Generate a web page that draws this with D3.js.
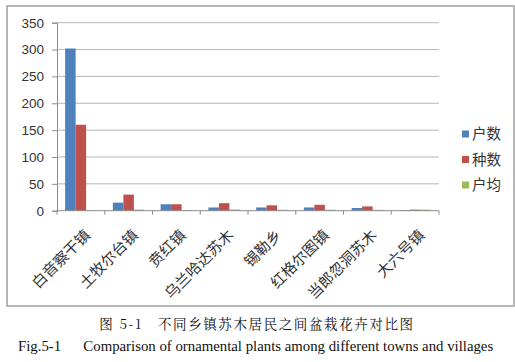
<!DOCTYPE html>
<html><head><meta charset="utf-8">
<script src="https://cdn.jsdelivr.net/npm/d3@7"></script>
<style>body{margin:0;background:#fff;}svg{display:block;}</style>
</head><body>
<script>
const categories = ["白音察干镇","土牧尔台镇","贲红镇","乌兰哈达苏木","锡勒乡","红格尔图镇","当郎忽洞苏木","大六号镇"];
const seriesNames = ["户数","种数","户均"];
const huShu = [302, 15, 12, 6, 6, 6, 5, 1];
const zhongShu = [160, 30, 12, 14, 10, 11, 8, 2];
const huJun = [0.5, 2, 1, 2.3, 1.7, 1.8, 1.6, 2];
const yTicks = [0,50,100,150,200,250,300,350];
const colors = ["#4f81bd","#c0504d","#9bbb59"];

(function(){
const W = 515, H = 362;
const svg = d3.select("body").append("svg").attr("width", W).attr("height", H);

// frame
svg.append("rect").attr("x",7).attr("y",6).attr("width",507).attr("height",300)
  .attr("fill","#fff").attr("stroke","#a0a0a0").attr("stroke-width",1.5);

const pl = 57, pr = 439, pt = 22.7, pb = 210.7;
const x = d3.scaleBand().domain(categories).range([pl,pr]).paddingInner(0.34).paddingOuter(0.17);
const xs = d3.scaleBand().domain(seriesNames).range([0,x.bandwidth()]);
const y = d3.scaleLinear().domain([0,350]).range([pb,pt]);

// grid
svg.append("g").selectAll("line").data(yTicks.filter(d=>d>0)).join("line")
  .attr("x1",pl).attr("x2",pr).attr("y1",d=>y(d)).attr("y2",d=>y(d))
  .attr("stroke","#b8b8b8").attr("stroke-width",1);

// y axis
const yAxis = d3.axisLeft(y).tickValues(yTicks).tickSize(5).tickPadding(8);
const gy = svg.append("g").attr("transform",`translate(${pl},0)`).call(yAxis);
gy.select(".domain").attr("stroke","#8c8c8c");
gy.selectAll(".tick line").attr("stroke","#8c8c8c");
gy.selectAll(".tick text").attr("font-family","Liberation Sans, Arial, sans-serif").attr("font-size",13.5).attr("fill","#333");

// bars
const data = [huShu, zhongShu, huJun];
data.forEach((vals,si)=>{
  svg.append("g").selectAll("rect").data(vals).join("rect")
    .attr("x",(d,i)=>x(categories[i])+xs(seriesNames[si]))
    .attr("width",xs.bandwidth())
    .attr("y",d=>y(d)).attr("height",d=>pb-y(d))
    .attr("fill",colors[si]);
});

// x axis
const gx = svg.append("g").attr("transform",`translate(0,${pb})`);
gx.append("line").attr("x1",pl).attr("x2",pr).attr("stroke","#8c8c8c");
const tickXs = d3.range(categories.length+1).map(i=>pl+i*(pr-pl)/categories.length);
gx.selectAll("line.t").data(tickXs).join("line").attr("class","t")
  .attr("x1",d=>d).attr("x2",d=>d).attr("y1",0).attr("y2",4).attr("stroke","#8c8c8c");
gx.selectAll("text").data(categories).join("text")
  .attr("transform",d=>`translate(${x(d)+x.bandwidth()/2+3},${18}) rotate(-45)`)
  .attr("text-anchor","end").attr("dy","0.7em")
  .attr("font-family","Noto Sans CJK SC, sans-serif").attr("font-size",15).attr("fill","#333")
  .text(d=>d);

// legend
const lg = svg.append("g");
seriesNames.forEach((n,i)=>{
  const ly = 134 + i*25.5;
  lg.append("rect").attr("x",462).attr("y",ly-3.5).attr("width",7).attr("height",7).attr("fill",colors[i]);
  lg.append("text").attr("x",472).attr("y",ly).attr("dy","0.35em")
    .attr("font-family","Noto Sans CJK SC, sans-serif").attr("font-size",14.5).attr("fill","#333").text(n);
});

// captions
svg.append("text").attr("x",257).attr("y",329).attr("text-anchor","middle")
  .attr("font-family","Noto Serif CJK SC, Noto Sans CJK SC, serif").attr("font-size",13.5).attr("fill","#111")
  .attr("letter-spacing",1.6)
  .text("图 5-1　不同乡镇苏木居民之间盆栽花卉对比图");
svg.append("text").attr("x",18).attr("y",351)
  .attr("font-family","Liberation Serif, Times New Roman, serif").attr("font-size",14.8).attr("fill","#111")
  .style("white-space","pre")
  .text("Fig.5-1      Comparison of ornamental plants among different towns and villages");
})();
</script>
</body></html>
